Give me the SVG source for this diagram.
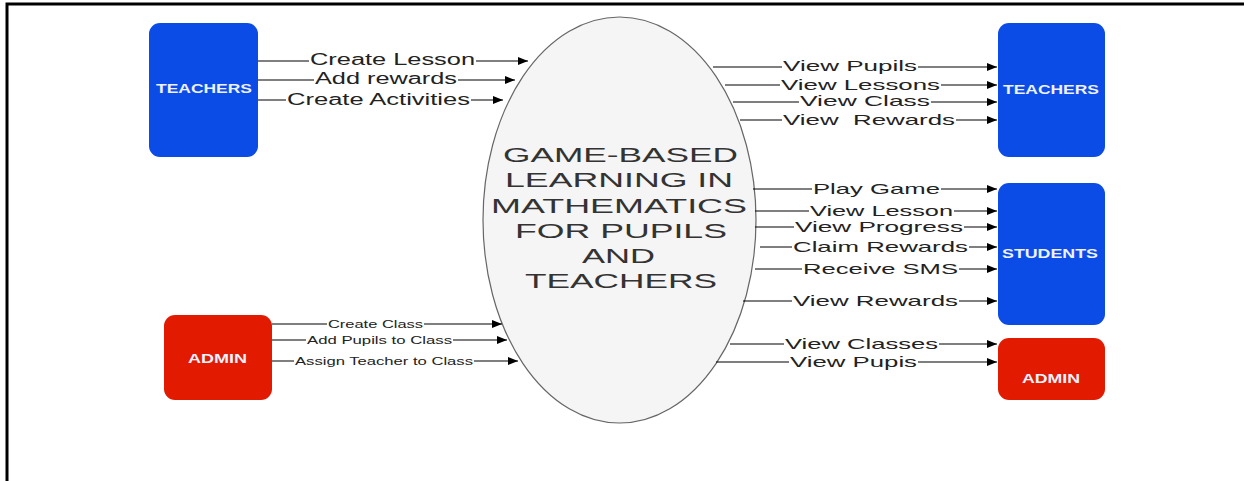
<svg xmlns="http://www.w3.org/2000/svg" width="1244" height="481" viewBox="0 0 1244 481">
<style>
.lbl{font-family:"Liberation Sans",Arial,sans-serif;font-size:15px;fill:#222;white-space:pre}
.lbl16{font-size:16px}
.sm{font-size:10.5px}
.bg{fill:#fff}
.conn{stroke:#000;stroke-width:1.1;fill:none;marker-end:url(#ah)}
.box-b{fill:#0B4BE6}
.box-r{fill:#E21B00}
.boxt{font-family:"Liberation Sans",Arial,sans-serif;font-size:12.5px;font-weight:bold;fill:#eef2ff}
.main{font-family:"Liberation Sans",Arial,sans-serif;font-size:21px;fill:#333}
</style>
<defs>
<marker id="ah" markerUnits="userSpaceOnUse" markerWidth="10" markerHeight="8" refX="10" refY="4" orient="auto">
<path d="M0,0 L10,4 L0,8 z" fill="#000"/>
</marker>
</defs>
<rect width="1244" height="481" fill="#fff"/>
<path d="M7,481 V4 H1244" stroke="#000" stroke-width="3" fill="none"/>

<g id="process">
<ellipse cx="619.5" cy="220" rx="136.5" ry="203" fill="#f5f5f5" stroke="#666" stroke-width="1.2"/>
<text class="main" x="503" y="162" textLength="235" lengthAdjust="spacingAndGlyphs">GAME-BASED</text>
<text class="main" x="505" y="187" textLength="228" lengthAdjust="spacingAndGlyphs">LEARNING IN</text>
<text class="main" x="491" y="213" textLength="256" lengthAdjust="spacingAndGlyphs">MATHEMATICS</text>
<text class="main" x="515" y="238" textLength="212" lengthAdjust="spacingAndGlyphs">FOR PUPILS</text>
<text class="main" x="582" y="263" textLength="73" lengthAdjust="spacingAndGlyphs">AND</text>
<text class="main" x="525" y="288" textLength="192" lengthAdjust="spacingAndGlyphs">TEACHERS</text>
</g>

<g id="teachers-left">
<rect class="box-b" x="149" y="23" width="109" height="134" rx="11"/>
<text class="boxt" x="156" y="92.5" textLength="96" lengthAdjust="spacingAndGlyphs">TEACHERS</text>
</g>
<g id="teachers-right">
<rect class="box-b" x="998" y="23" width="107" height="134" rx="11"/>
<text class="boxt" x="1003" y="93.5" textLength="96" lengthAdjust="spacingAndGlyphs">TEACHERS</text>
</g>
<g id="students">
<rect class="box-b" x="998" y="183" width="107" height="142" rx="11"/>
<text class="boxt" x="1002" y="257.5" textLength="96" lengthAdjust="spacingAndGlyphs">STUDENTS</text>
</g>
<g id="admin-left">
<rect class="box-r" x="164" y="315" width="108" height="85" rx="11"/>
<text class="boxt" x="188" y="362.5" textLength="59" lengthAdjust="spacingAndGlyphs">ADMIN</text>
</g>
<g id="admin-right">
<rect class="box-r" x="998" y="338" width="107" height="62" rx="11"/>
<text class="boxt" x="1022" y="382.5" textLength="58" lengthAdjust="spacingAndGlyphs">ADMIN</text>
</g>

<g id="connectors">
<!-- teachers (left) to process -->
<line class="conn" x1="258" y1="61" x2="528" y2="61"/>
<rect class="bg" x="309" y="51" width="167" height="17"/>
<text class="lbl lbl16" x="310" y="65" textLength="165" lengthAdjust="spacingAndGlyphs">Create Lesson</text>
<line class="conn" x1="258" y1="80" x2="515" y2="80"/>
<rect class="bg" x="314" y="70" width="144" height="17"/>
<text class="lbl lbl16" x="315" y="84" textLength="142" lengthAdjust="spacingAndGlyphs">Add rewards</text>
<line class="conn" x1="258" y1="100" x2="503" y2="100"/>
<rect class="bg" x="286" y="90" width="185" height="19"/>
<text class="lbl lbl16" x="287" y="104.5" textLength="183" lengthAdjust="spacingAndGlyphs">Create Activities</text>

<!-- process to teachers (right) -->
<line class="conn" x1="713" y1="67" x2="997" y2="67"/>
<rect class="bg" x="782" y="58" width="136" height="17"/>
<text class="lbl" x="783" y="71" textLength="134" lengthAdjust="spacingAndGlyphs">View Pupils</text>
<line class="conn" x1="725" y1="85" x2="997" y2="85"/>
<rect class="bg" x="780" y="76" width="161" height="15"/>
<text class="lbl" x="781" y="89.5" textLength="159" lengthAdjust="spacingAndGlyphs">View Lessons</text>
<line class="conn" x1="733" y1="102" x2="997" y2="102"/>
<rect class="bg" x="799" y="93" width="132" height="15"/>
<text class="lbl" x="800" y="106" textLength="130" lengthAdjust="spacingAndGlyphs">View Class</text>
<line class="conn" x1="740" y1="120" x2="997" y2="120"/>
<rect class="bg" x="782" y="111" width="174" height="15"/>
<text class="lbl" x="783" y="124.5" textLength="172" lengthAdjust="spacingAndGlyphs">View  Rewards</text>

<!-- process to students -->
<line class="conn" x1="753" y1="189" x2="997" y2="189"/>
<rect class="bg" x="812" y="180" width="129" height="15"/>
<text class="lbl" x="813" y="193.5" textLength="127" lengthAdjust="spacingAndGlyphs">Play Game</text>
<line class="conn" x1="755" y1="211" x2="997" y2="211"/>
<rect class="bg" x="809" y="202" width="145" height="15"/>
<text class="lbl" x="810" y="215.5" textLength="143" lengthAdjust="spacingAndGlyphs">View Lesson</text>
<line class="conn" x1="755" y1="227" x2="997" y2="227"/>
<rect class="bg" x="794" y="219" width="170" height="13"/>
<text class="lbl" x="795" y="231.5" textLength="168" lengthAdjust="spacingAndGlyphs">View Progress</text>
<line class="conn" x1="760" y1="247" x2="997" y2="247"/>
<rect class="bg" x="792" y="238" width="177" height="15"/>
<text class="lbl" x="793" y="251.5" textLength="175" lengthAdjust="spacingAndGlyphs">Claim Rewards</text>
<line class="conn" x1="755" y1="269" x2="997" y2="269"/>
<rect class="bg" x="802" y="260" width="157" height="15"/>
<text class="lbl" x="803" y="273.5" textLength="155" lengthAdjust="spacingAndGlyphs">Receive SMS</text>
<line class="conn" x1="743" y1="301" x2="997" y2="301"/>
<rect class="bg" x="792" y="292" width="167" height="15"/>
<text class="lbl" x="793" y="305.5" textLength="165" lengthAdjust="spacingAndGlyphs">View Rewards</text>

<!-- process to admin (right) -->
<line class="conn" x1="730" y1="344" x2="997" y2="344"/>
<rect class="bg" x="784" y="335" width="155" height="15"/>
<text class="lbl" x="785" y="348.5" textLength="153" lengthAdjust="spacingAndGlyphs">View Classes</text>
<line class="conn" x1="716" y1="362" x2="997" y2="362"/>
<rect class="bg" x="789" y="353" width="129" height="17"/>
<text class="lbl" x="790" y="366.5" textLength="127" lengthAdjust="spacingAndGlyphs">View Pupis</text>

<!-- admin (left) to process -->
<line class="conn" x1="272" y1="324" x2="502" y2="324"/>
<rect class="bg" x="327" y="318" width="97" height="11"/>
<text class="lbl sm" x="328" y="328" textLength="95" lengthAdjust="spacingAndGlyphs">Create Class</text>
<line class="conn" x1="272" y1="340" x2="507" y2="340"/>
<rect class="bg" x="306" y="334" width="147" height="12"/>
<text class="lbl sm" x="307" y="344" textLength="145" lengthAdjust="spacingAndGlyphs">Add Pupils to Class</text>
<line class="conn" x1="272" y1="361" x2="518" y2="361"/>
<rect class="bg" x="294" y="355" width="180" height="12"/>
<text class="lbl sm" x="295" y="365" textLength="178" lengthAdjust="spacingAndGlyphs">Assign Teacher to Class</text>
</g>
</svg>
